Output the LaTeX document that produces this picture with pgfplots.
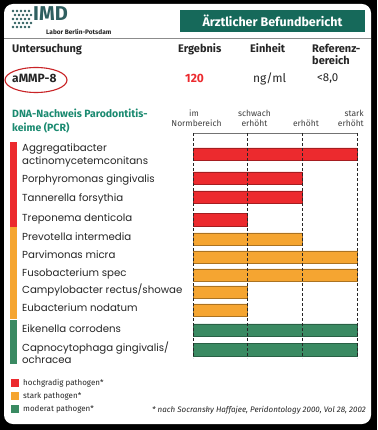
\documentclass[border=0pt]{standalone}
\usepackage{pgfplots}
\pgfplotsset{compat=1.18}
\usepackage{fontspec}
\setmainfont{Fira Sans}
\newfontfamily\gothic{Poppins}
\definecolor{imdred}{HTML}{EC2A2E}
\definecolor{imdorange}{HTML}{F5A531}
\definecolor{imdgreen}{HTML}{3A8A62}
\definecolor{imdteal}{HTML}{16695A}
\definecolor{secteal}{HTML}{1A8A70}
\definecolor{logoc}{HTML}{2F5F60}
\definecolor{txt}{HTML}{262626}
\begin{document}
\begin{tikzpicture}
\begin{scope}[x=1pt,y=-1pt]
\fill[black] (0,0) rectangle (377,430);
\fill[white, rounded corners=9pt] (4,4) rectangle (371,424);
% logo
\foreach \r in {0,...,4}{
  \foreach \c in {0,...,4}{
    \pgfmathsetmacro{\xx}{13+4*\c+mod(\r,2)*2}
    \pgfmathsetmacro{\yy}{11+4*\r}
    \fill[logoc] (\xx,\yy) circle (1.3);
  }
}
\node[anchor=mid west, inner sep=0pt, font=\fontsize{20}{20}\selectfont\bfseries, text=logoc] at (33,18) {IMD};
\node[anchor=mid west, inner sep=0pt, font=\fontsize{6.5}{6.5}\selectfont\bfseries, text=txt] at (46,32) {Labor Berlin-Potsdam};
\fill[imdteal] (180,10) rectangle (365,32);
\node[inner sep=0pt, font=\fontsize{12.5}{12.5}\selectfont\bfseries, text=white] at (272.5,21) {Ärztlicher Befundbericht};
\draw[black!45, line width=0.8pt] (4,38) -- (371,38);
% table header
\begin{scope}[every node/.style={anchor=mid west, inner sep=0pt, text=txt, font=\fontsize{11}{11}\selectfont\bfseries}]
\node at (12,50) {Untersuchung};
\node at (178,50) {Ergebnis};
\node at (250,50) {Einheit};
\node at (312,50) {Referenz-};
\node at (312,62) {bereich};
\node[font=\fontsize{12}{12}\selectfont\bfseries] at (12,80) {aMMP-8};
\node[font=\fontsize{12}{12}\selectfont\bfseries, text=imdred] at (185,80) {120};
\node[font=\fontsize{12}{12}\selectfont] at (253,80) {ng/ml};
\node[font=\fontsize{11.5}{11.5}\selectfont] at (317,79) {<8,0};
\end{scope}
\draw[imdred!85!black, line width=1.1pt] (36,80) ellipse (31 and 12.5);
% section heading
\node[anchor=mid west, inner sep=0pt, font=\fontsize{10.5}{10.5}\selectfont\bfseries, text=secteal] at (12,115) {DNA-Nachweis Parodontitis-};
\node[anchor=mid west, inner sep=0pt, font=\fontsize{10.5}{10.5}\selectfont\bfseries, text=secteal] at (12,129) {keime (PCR)};
% column headers
\begin{scope}[every node/.style={inner sep=0pt, text=black!75, font=\fontsize{8.5}{8.5}\selectfont}]
\node at (194,113.5) {im};
\node at (196.5,123.5) {Normbereich};
\node at (254.5,113.5) {schwach};
\node at (254.5,123.5) {erhöht};
\node at (306,123.5) {erhöht};
\node[anchor=mid east] at (364,113.5) {stark};
\node[anchor=mid east] at (364,123.5) {erhöht};
\end{scope}
% colour strips
\foreach \a/\b/\cc in {142/168/imdred,168/189/imdred,189/209/imdred,209/227/imdred,
  227/248/imdorange,248/266/imdorange,266/283/imdorange,283/300/imdorange,300/319/imdorange,
  320/340/imdgreen,340/364/imdgreen}{
  \fill[\cc] (10,\a+0.4) rectangle (17,\b-0.4);
}
% category labels
\begin{scope}[every node/.style={anchor=mid west, inner sep=0pt, text=txt, font=\gothic\fontsize{10.2}{10.2}\selectfont}]
\node at (22,149) {Aggregatibacter};
\node at (22,162) {actinomycetemconitans};
\node at (22,180) {Porphyromonas gingivalis};
\node at (22,199) {Tannerella forsythia};
\node at (22,219) {Treponema denticola};
\node at (22,238) {Prevotella intermedia};
\node at (22,256) {Parvimonas micra};
\node at (22,274) {Fusobacterium spec};
\node at (22,291) {Campylobacter rectus/showae};
\node at (22,309) {Eubacterium nodatum};
\node at (22,330) {Eikenella corrodens};
\node at (22,349) {Capnocytophaga gingivalis/};
\node at (22,361) {ochracea};
\end{scope}
% legend
\fill[imdred] (11,379) rectangle (19,387);
\fill[imdorange] (11,392) rectangle (19,400);
\fill[imdgreen] (11,405) rectangle (19,413);
\begin{scope}[every node/.style={anchor=mid west, inner sep=0pt, text=txt, font=\fontsize{8}{8}\selectfont}]
\node at (23,383) {hochgradig pathogen*};
\node at (23,396) {stark pathogen*};
\node at (23,409) {moderat pathogen*};
\node[anchor=mid east, font=\fontsize{8}{8}\selectfont\itshape] at (366,410) {* nach Socransky Haffajee, Peridontology 2000, Vol 28, 2002};
\end{scope}
\end{scope}
\begin{axis}[
  scale only axis, width=164pt, height=225pt,
  at={(193pt,-358pt)}, anchor=south west,
  xmin=0, xmax=3, ymin=133, ymax=358, y dir=reverse,
  xbar, bar width=12.5pt,
  axis on top,
  axis line style={draw=none},
  xtick={0,1,2,3}, xticklabels={}, ytick=\empty,
  major tick length=0pt,
  xmajorgrids, grid style={black!85, dash pattern=on 2.5pt off 2.5pt, line width=0.7pt},
  clip=false,
]
\draw[black!55, line width=0.7pt] (axis cs:0,133) -- (axis cs:3,133);
\addplot[fill=imdred, draw=imdred!70!black, line width=0.4pt, bar shift=0pt] coordinates {(3,154) (2,178) (2,197) (1,219.5)};
\addplot[fill=imdorange, draw=imdorange!70!black, line width=0.4pt, bar shift=0pt] coordinates {(2,239) (3,257) (3,275) (1,292) (1,310)};
\addplot[fill=imdgreen, draw=imdgreen!70!black, line width=0.4pt, bar shift=0pt] coordinates {(3,330) (3,349.5)};
\end{axis}
\end{tikzpicture}
\end{document}
